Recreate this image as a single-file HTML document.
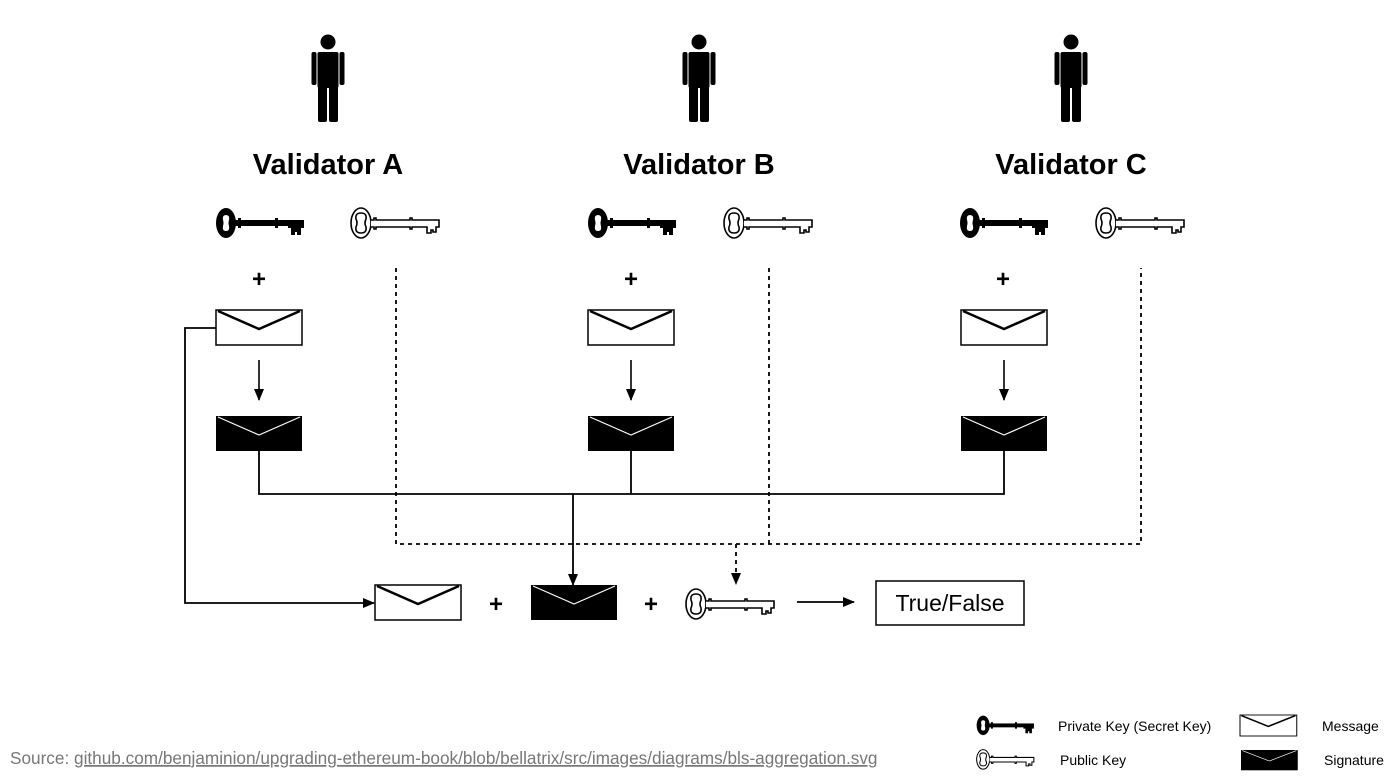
<!DOCTYPE html>
<html><head><meta charset="utf-8"><style>
html,body{margin:0;padding:0;background:#fff;}
svg{display:block;}
text{font-family:"Liberation Sans",Arial,sans-serif;}
</style></head><body>
<svg width="1400" height="781" viewBox="0 0 1400 781" xmlns="http://www.w3.org/2000/svg">
<defs>
<g id="person" fill="#000">
<circle cx="0" cy="8" r="7.5"/>
<rect x="-10.5" y="18" width="21" height="36" rx="2"/>
<rect x="-16.5" y="18" width="5" height="33" rx="2"/>
<rect x="11.5" y="18" width="5" height="33" rx="2"/>
<rect x="-10" y="50" width="9" height="38" rx="2"/>
<rect x="1" y="50" width="9" height="38" rx="2"/>
</g>
<g id="pkey">
<ellipse cx="11" cy="16" rx="10" ry="15" fill="#000"/>
<path d="M11,8 Q15,8 14,13 Q13,16 14,19 Q15,24 11,24 Q7,24 8,19 Q9,16 8,13 Q7,8 11,8 Z" fill="#fff"/>
<rect x="19" y="13" width="70" height="6" fill="#000"/>
<rect x="23" y="11" width="3" height="10" fill="#000"/>
<rect x="60" y="11" width="3" height="10" fill="#000"/>
<path d="M73,13 L89,13 L89,21 L86,21 L86,28 L82,28 L82,25 L80,25 L80,28 L76,28 L76,21 L73,21 Z" fill="#000"/>
</g>
<g id="ukey" fill="#fff" stroke="#000" stroke-width="1.6">
<ellipse cx="11" cy="16" rx="10" ry="15"/>
<path d="M11,6 Q17,6 16,12 Q14,16 16,20 Q17,26 11,26 Q5,26 6,20 Q8,16 6,12 Q5,6 11,6 Z"/>
<path d="M21,13 L24,13 L24,11 L26,11 L26,13 L60,13 L60,11 L62,11 L62,13 L89,13 L89,20 L86,20 L86,25 L83,25 L83,23 L81,23 L81,26 L77,26 L77,20 L62,20 L62,22 L60,22 L60,20 L26,20 L26,22 L24,22 L24,20 L21,20"/>
</g>
<g id="msg">
<rect x="0" y="0" width="86" height="35" fill="#fff" stroke="#000" stroke-width="1.5"/>
<path d="M2,1 L43,19 L84,1" fill="none" stroke="#000" stroke-width="2.5"/>
</g>
<g id="sig">
<rect x="0" y="0" width="86" height="35" fill="#000"/>
<path d="M2,1 L43,19 L84,1" fill="none" stroke="#fff" stroke-width="1.2"/>
</g>
<marker id="ar" markerWidth="12" markerHeight="12" refX="11" refY="6" orient="auto" markerUnits="userSpaceOnUse"><path d="M0,1 L12,6 L0,11 Z" fill="#000"/></marker>
</defs>

<use href="#person" x="328" y="34"/>
<use href="#person" x="699" y="34"/>
<use href="#person" x="1071" y="34"/>

<g font-weight="bold" font-size="29" text-anchor="middle">
<text x="328" y="174">Validator A</text>
<text x="699" y="174">Validator B</text>
<text x="1071" y="174">Validator C</text>
</g>

<use href="#pkey" x="215" y="207"/><use href="#ukey" x="350" y="207"/>
<use href="#pkey" x="587" y="207"/><use href="#ukey" x="723" y="207"/>
<use href="#pkey" x="959" y="207"/><use href="#ukey" x="1095" y="207"/>

<g font-weight="bold" font-size="24" text-anchor="middle">
<text x="259" y="287">+</text><text x="631" y="287">+</text><text x="1003" y="287">+</text>
<text x="496" y="612">+</text><text x="651" y="612">+</text>
</g>

<use href="#msg" x="216" y="310"/><use href="#msg" x="588" y="310"/><use href="#msg" x="961" y="310"/>
<g stroke="#000" stroke-width="1.6" fill="none">
<line x1="259" y1="360" x2="259" y2="400" marker-end="url(#ar)"/>
<line x1="631" y1="360" x2="631" y2="400" marker-end="url(#ar)"/>
<line x1="1004" y1="360" x2="1004" y2="400" marker-end="url(#ar)"/>
</g>
<use href="#sig" x="216" y="416"/><use href="#sig" x="588" y="416"/><use href="#sig" x="961" y="416"/>

<g stroke="#000" stroke-width="1.8" fill="none">
<polyline points="259,451 259,494 1004,494 1004,451"/>
<line x1="631" y1="451" x2="631" y2="494"/>
<line x1="573" y1="494" x2="573" y2="585" marker-end="url(#ar)"/>
<polyline points="216,328 185,328 185,603 374,603" marker-end="url(#ar)"/>
<line x1="797" y1="602" x2="854" y2="602" marker-end="url(#ar)"/>
</g>
<g stroke="#000" stroke-width="1.8" fill="none" stroke-dasharray="4,4">
<polyline points="396,268 396,544 1141,544 1141,268"/>
<line x1="769" y1="268" x2="769" y2="544"/>
<line x1="736" y1="544" x2="736" y2="584" marker-end="url(#ar)"/>
</g>

<use href="#msg" x="375" y="585"/>
<use href="#sig" x="531" y="585"/>
<use href="#ukey" x="685" y="588"/>
<rect x="876" y="581" width="148" height="44" fill="#fff" stroke="#000" stroke-width="1.5"/>
<text x="950" y="611" font-size="23" text-anchor="middle">True/False</text>

<g transform="translate(976,715) scale(0.65)"><use href="#pkey"/></g>
<g transform="translate(976,749) scale(0.65)"><use href="#ukey"/></g>
<g transform="translate(1240,715) scale(0.66,0.6)"><use href="#msg"/></g>
<g transform="translate(1241,750) scale(0.66,0.58)"><use href="#sig"/></g>
<g font-size="14">
<text x="1058" y="731">Private Key (Secret Key)</text>
<text x="1060" y="765">Public Key</text>
<text x="1322" y="731">Message</text>
<text x="1324" y="765">Signature</text>
</g>

<text x="10" y="764" font-size="17.2" fill="#777">Source: <tspan text-decoration="underline">github.com/benjaminion/upgrading-ethereum-book/blob/bellatrix/src/images/diagrams/bls-aggregation.svg</tspan></text>
</svg>
</body></html>
